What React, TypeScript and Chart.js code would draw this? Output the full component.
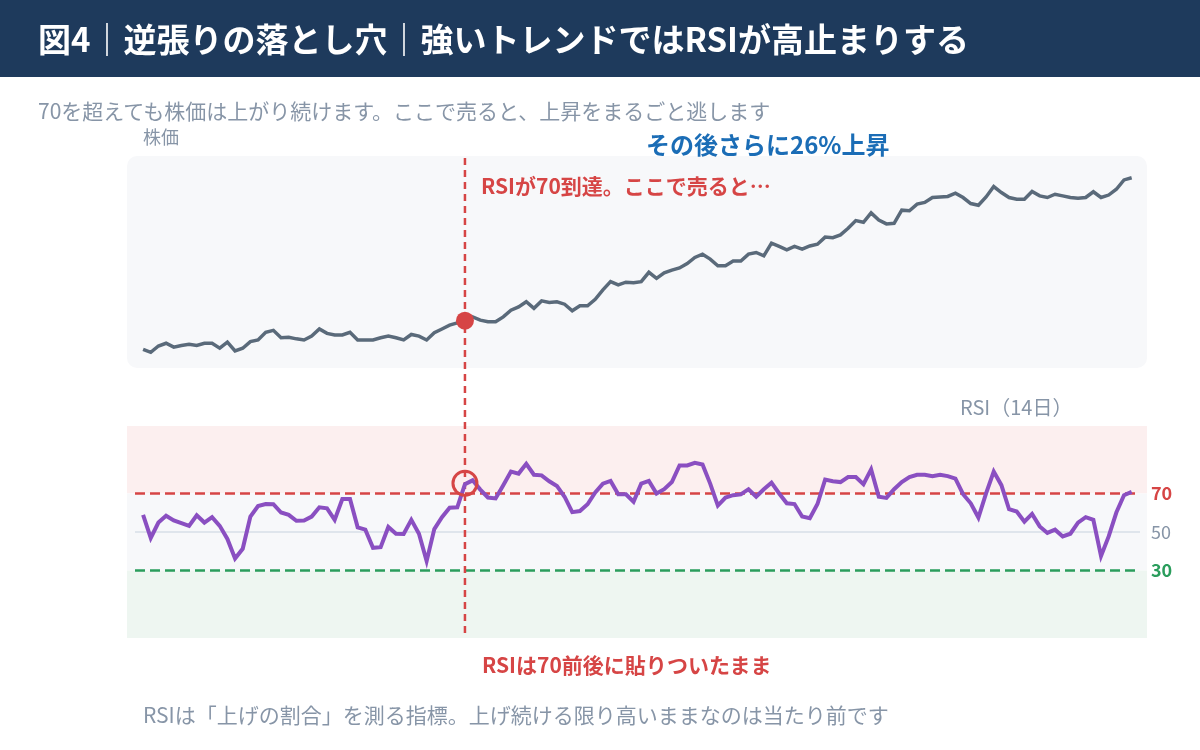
import React, { useEffect, useRef } from "react";
import { Chart, registerables } from "chart.js";

Chart.register(...registerables);

// Daily closing price (index = 100 on the day RSI first touches 70)
const price: number[] = [
  94.8, 94.25, 95.4, 95.9, 95.2, 95.5, 95.7, 95.5, 95.9, 95.9,
  95.0, 96.1, 94.5, 95.0, 96.2, 96.5, 97.9, 98.25, 96.9, 97.0,
  96.7, 96.5, 97.2, 98.5, 97.7, 97.4, 97.4, 97.9, 96.5, 96.5,
  96.5, 96.9, 97.2, 96.9, 96.5, 97.5, 97.2, 96.5, 97.8, 98.5,
  99.2, 99.6, 100.0, 100.7, 100.1, 99.8, 99.8, 100.7, 101.9, 102.5,
  103.45, 102.25, 103.6, 103.3, 103.45, 103.0, 101.8, 102.7, 102.7, 103.9,
  105.6, 107.1, 106.5, 107.0, 106.9, 107.1, 108.8, 107.7, 108.7, 109.2,
  109.6, 110.4, 111.5, 112.1, 111.2, 110.0, 110.0, 110.85, 110.85, 112.1,
  112.4, 111.8, 114.1, 113.5, 112.9, 113.5, 113.0, 113.6, 113.9, 115.2,
  115.1, 115.6, 116.8, 118.2, 117.9, 119.6, 118.3, 117.6, 117.7, 120.1,
  120.0, 121.2, 121.5, 122.4, 122.5, 122.6, 123.2, 122.4, 121.3, 121.0,
  122.5, 124.4, 123.3, 122.4, 122.1, 122.1, 123.5, 122.7, 122.4, 123.0,
  122.7, 122.4, 122.25, 122.4, 123.45, 122.4, 122.85, 123.9, 125.6, 126.0,
];

// 14-day RSI for the same days
const rsi: number[] = [
  58.9, 46.9, 54.9, 58.4, 56.0, 54.6, 53.2, 58.7, 54.9, 57.7,
  53.2, 46.4, 36.2, 41.3, 58.0, 63.5, 64.5, 64.4, 60.1, 58.9,
  55.8, 56.0, 58.0, 62.8, 62.3, 56.3, 67.1, 67.1, 52.4, 51.2,
  41.8, 42.1, 52.6, 49.1, 49.0, 56.3, 49.1, 34.9, 51.5, 57.7,
  62.6, 62.8, 74.8, 76.8, 72.0, 67.9, 67.4, 74.3, 81.4, 80.3,
  85.4, 79.7, 79.4, 76.3, 73.9, 68.3, 60.3, 60.9, 64.4, 70.5,
  75.1, 76.5, 69.6, 69.6, 65.7, 75.1, 76.5, 70.0, 72.2, 75.9,
  84.5, 84.5, 85.9, 85.0, 75.1, 63.7, 67.9, 69.1, 69.5, 72.2,
  68.3, 72.2, 75.6, 70.0, 64.9, 64.5, 58.0, 57.2, 64.5, 77.2,
  76.3, 75.9, 78.5, 78.5, 74.8, 82.5, 68.3, 67.7, 72.2, 75.9,
  78.5, 79.7, 79.7, 78.9, 79.7, 79.0, 77.7, 69.6, 64.9, 57.5,
  70.0, 81.4, 74.3, 61.8, 60.6, 55.4, 59.4, 52.9, 49.5, 51.2,
  47.7, 49.1, 54.9, 57.7, 56.3, 37.5, 47.7, 60.1, 69.1, 70.8,
];

// Day on which RSI reaches 70 (the "sell" signal)
const signalDay = 42;

// RSI reference levels and their tick labels
const overbought = 70;
const midline = 50;
const oversold = 30;
const rsiTickValues: number[] = [oversold, midline, overbought];

// Text
const titleText = "図4｜逆張りの落とし穴｜強いトレンドではRSIが高止まりする";
const subtitleText = "70を超えても株価は上がり続けます。ここで売ると、上昇をまるごと逃します";
const priceLabel = "株価";
const gainNote = "その後さらに26%上昇";
const signalNote = "RSIが70到達。ここで売ると…";
const rsiLabel = "RSI（14日）";
const stuckNote = "RSIは70前後に貼りついたまま";
const footerText = "RSIは「上げの割合」を測る指標。上げ続ける限り高いままなのは当たり前です";

// Colours
const C = {
  header: "#1e3a5c",
  muted: "#8795a7",
  blue: "#1b6db6",
  red: "#d64545",
  green: "#2a9d5c",
  priceLine: "#5a6a7a",
  rsiLine: "#8a4fc1",
  card: "#f7f8fa",
  hot: "#fcefef",
  cool: "#eef6f1",
  grid: "#dfe5ec",
};

const FONT = '"Noto Sans CJK JP", "Noto Sans", sans-serif';

// Plot geometry (canvas pixels)
const PLOT_LEFT = 127;
const PLOT_RIGHT = 1147;
const PLOT_TOP = 156;
const PLOT_BOTTOM = 638;
const PRICE_PANEL_H = 212;
const RSI_PANEL_H = 212;
const RIGHT_AXIS_W = 40;
const PLOT_H = PLOT_BOTTOM - PLOT_TOP;

// Value ranges visible inside each panel
const PRICE_PANEL_MIN = 91.4;
const PRICE_PANEL_MAX = 129.95;
const RSI_PANEL_MIN = -5;
const RSI_PANEL_MAX = 105;

// The price axis occupies the upper panel, the RSI axis the lower panel
const priceAxisMax = PRICE_PANEL_MAX;
const priceAxisMin = PRICE_PANEL_MAX - (PRICE_PANEL_MAX - PRICE_PANEL_MIN) * (PLOT_H / PRICE_PANEL_H);
const rsiAxisMin = RSI_PANEL_MIN;
const rsiAxisMax = RSI_PANEL_MIN + (RSI_PANEL_MAX - RSI_PANEL_MIN) * (PLOT_H / RSI_PANEL_H);

const panelsPlugin = {
  id: "panels",
  beforeDatasetsDraw(chart: any) {
    const { ctx, chartArea: a, scales } = chart;
    const yR = scales.yRsi;
    const x = scales.x;
    const w = a.right - a.left;
    ctx.save();

    // price card
    ctx.fillStyle = C.card;
    ctx.beginPath();
    ctx.roundRect(a.left, a.top, w, PRICE_PANEL_H, 10);
    ctx.fill();

    // RSI zones
    const yTop = yR.getPixelForValue(RSI_PANEL_MAX);
    const yOb = yR.getPixelForValue(overbought);
    const yOs = yR.getPixelForValue(oversold);
    const yBot = yR.getPixelForValue(RSI_PANEL_MIN);
    ctx.fillStyle = C.hot;
    ctx.fillRect(a.left, yTop, w, yOb - yTop);
    ctx.fillStyle = C.card;
    ctx.fillRect(a.left, yOb, w, yOs - yOb);
    ctx.fillStyle = C.cool;
    ctx.fillRect(a.left, yOs, w, yBot - yOs);

    // midline
    const yMid = yR.getPixelForValue(midline);
    ctx.strokeStyle = C.grid;
    ctx.lineWidth = 2;
    ctx.beginPath();
    ctx.moveTo(a.left + 8, yMid);
    ctx.lineTo(a.right - 7, yMid);
    ctx.stroke();

    // overbought / oversold thresholds
    ctx.lineWidth = 2.5;
    ctx.setLineDash([10, 5]);
    ctx.strokeStyle = C.red;
    ctx.beginPath();
    ctx.moveTo(a.left + 8, yOb);
    ctx.lineTo(a.right - 12, yOb);
    ctx.stroke();
    ctx.strokeStyle = C.green;
    ctx.beginPath();
    ctx.moveTo(a.left + 8, yOs);
    ctx.lineTo(a.right - 12, yOs);
    ctx.stroke();

    // signal day marker line through both panels
    const xs = x.getPixelForValue(signalDay);
    ctx.strokeStyle = C.red;
    ctx.lineWidth = 2.5;
    ctx.setLineDash([7, 5]);
    ctx.beginPath();
    ctx.moveTo(xs, a.top + 2);
    ctx.lineTo(xs, a.bottom - 1);
    ctx.stroke();
    ctx.restore();
  },
  afterDatasetsDraw(chart: any) {
    const { ctx, scales } = chart;
    const xs = scales.x.getPixelForValue(signalDay);
    const yp = scales.yPrice.getPixelForValue(price[signalDay]);
    const yr = scales.yRsi.getPixelForValue(rsi[signalDay]);
    ctx.save();
    ctx.fillStyle = C.red;
    ctx.beginPath();
    ctx.arc(xs, yp, 9, 0, Math.PI * 2);
    ctx.fill();
    ctx.strokeStyle = C.red;
    ctx.lineWidth = 3;
    ctx.beginPath();
    ctx.arc(xs, yr - 1, 12, 0, Math.PI * 2);
    ctx.stroke();
    ctx.restore();
  },
};

function Label(props: {
  x: number;
  cy: number;
  size: number;
  color: string;
  bold?: boolean;
  children: React.ReactNode;
}) {
  const { x, cy, size, color, bold, children } = props;
  return (
    <div
      style={{
        position: "absolute",
        left: x,
        top: cy - size * 0.556,
        fontSize: size,
        lineHeight: `${size}px`,
        color,
        fontWeight: bold ? 700 : 400,
        fontFamily: FONT,
        whiteSpace: "nowrap",
      }}
    >
      {children}
    </div>
  );
}

export default function App() {
  const canvasRef = useRef<HTMLCanvasElement | null>(null);

  useEffect(() => {
    const canvas = canvasRef.current;
    if (!canvas) return;
    const chart = new Chart(canvas, {
      type: "line",
      data: {
        datasets: [
          {
            label: priceLabel,
            data: price.map((v, i) => ({ x: i, y: v })),
            yAxisID: "yPrice",
            borderColor: C.priceLine,
            borderWidth: 3.5,
            pointRadius: 0,
            tension: 0,
          },
          {
            label: rsiLabel,
            data: rsi.map((v, i) => ({ x: i, y: v })),
            yAxisID: "yRsi",
            borderColor: C.rsiLine,
            borderWidth: 4,
            pointRadius: 0,
            tension: 0,
          },
        ],
      },
      options: {
        responsive: false,
        animation: false,
        devicePixelRatio: 1,
        layout: {
          padding: {
            left: PLOT_LEFT,
            top: PLOT_TOP,
            bottom: 750 - PLOT_BOTTOM,
            right: 1200 - PLOT_RIGHT - RIGHT_AXIS_W,
          },
        },
        plugins: {
          legend: { display: false },
          tooltip: { enabled: false },
        },
        scales: {
          x: {
            type: "linear",
            display: false,
            min: -2.1,
            max: price.length + 1,
          },
          yPrice: {
            type: "linear",
            display: false,
            position: "left",
            min: priceAxisMin,
            max: priceAxisMax,
          },
          yRsi: {
            type: "linear",
            position: "right",
            min: rsiAxisMin,
            max: rsiAxisMax,
            grid: { display: false, drawTicks: false },
            border: { display: false },
            afterBuildTicks: (scale: any) => {
              scale.ticks = rsiTickValues.map((v) => ({ value: v }));
            },
            afterFit: (scale: any) => {
              scale.width = RIGHT_AXIS_W;
            },
            ticks: {
              padding: 4,
              color: (ctx: any) =>
                ctx.tick.value === overbought ? C.red : ctx.tick.value === oversold ? C.green : C.muted,
              font: (ctx: any) => ({
                family: FONT,
                size: 18,
                weight: ctx.tick && ctx.tick.value !== midline ? "bold" : "normal",
              }),
              callback: (v: any) => String(v),
            },
          },
        },
      },
      plugins: [panelsPlugin],
    });
    return () => chart.destroy();
  }, []);

  return (
    <div
      style={{
        position: "fixed",
        left: 0,
        top: 0,
        width: 1200,
        height: 750,
        background: "#ffffff",
        overflow: "hidden",
        fontFamily: FONT,
      }}
    >
      <div
        style={{
          position: "absolute",
          left: 0,
          top: 0,
          width: 1200,
          height: 77,
          background: C.header,
        }}
      />
      <canvas
        ref={canvasRef}
        width={1200}
        height={750}
        style={{ position: "absolute", left: 0, top: 0, width: 1200, height: 750 }}
      />
      <Label x={38} cy={40} size={33} color="#ffffff" bold>
        {titleText}
      </Label>
      <Label x={38} cy={112} size={21} color={C.muted}>
        {subtitleText}
      </Label>
      <Label x={143} cy={137} size={18} color={C.muted}>
        {priceLabel}
      </Label>
      <Label x={646} cy={145} size={24} color={C.blue} bold>
        {gainNote}
      </Label>
      <Label x={481} cy={187} size={21} color={C.red} bold>
        {signalNote}
      </Label>
      <Label x={960} cy={408} size={20} color={C.muted}>
        {rsiLabel}
      </Label>
      <Label x={482} cy={666} size={21} color={C.red} bold>
        {stuckNote}
      </Label>
      <Label x={143} cy={716} size={21} color={C.muted}>
        {footerText}
      </Label>
    </div>
  );
}
